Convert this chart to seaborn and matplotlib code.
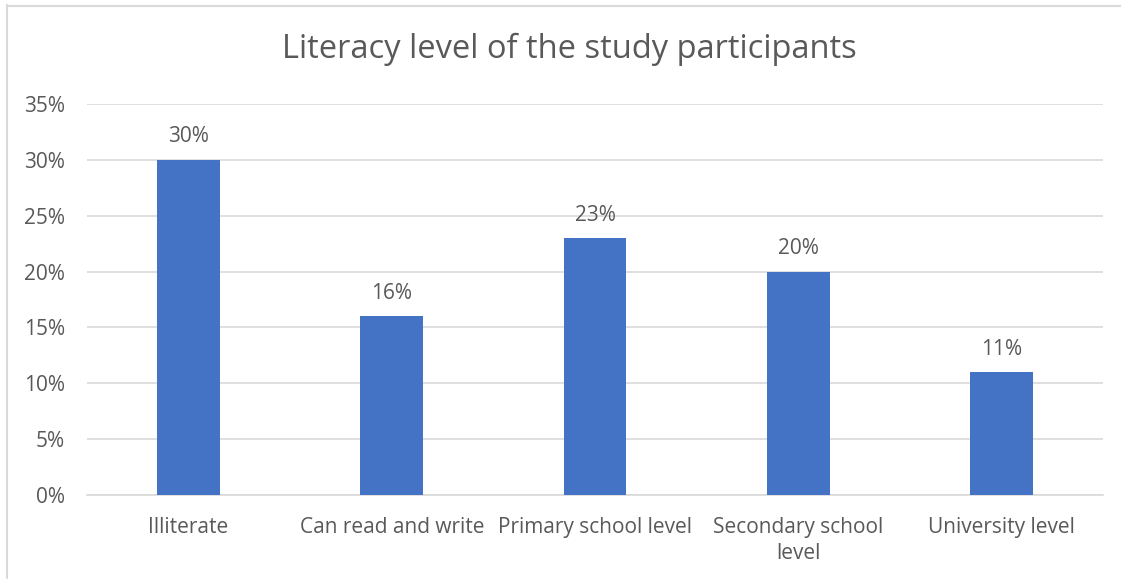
import matplotlib
matplotlib.use("Agg")
import matplotlib.pyplot as plt
from matplotlib.lines import Line2D
import seaborn as sns
import pandas as pd

categories = ["Illiterate", "Can read and write", "Primary school level",
              "Secondary school\nlevel", "University level"]
values = [30, 16, 23, 20, 11]
y_ticks = [0, 5, 10, 15, 20, 25, 30, 35]
tick_labels = [f"{t}%" for t in y_ticks]

df = pd.DataFrame({"level": categories, "pct": values})

sns.set_theme(style="white")
plt.rcParams["font.family"] = ["Open Sans", "DejaVu Sans"]

W, H = 1121, 584
fig = plt.figure(figsize=(W / 100, H / 100), dpi=100)
ax = fig.add_axes([87 / W, 1 - 495 / H, (1103 - 87) / W, (495 - 104) / H])

text_col = "#595959"
grid_col = "#d9d9d9"

sns.barplot(data=df, x="level", y="pct", color="#4472C4", width=0.31,
            saturation=1, linewidth=0, ax=ax, zorder=3)

ax.set_ylim(0, 35)
ax.set_yticks(y_ticks)
ax.set_yticklabels(tick_labels)
ax.yaxis.grid(True, color=grid_col, linewidth=1.2, zorder=0)
ax.set_axisbelow(True)
for s in ["top", "right", "left"]:
    ax.spines[s].set_visible(False)
ax.spines["bottom"].set_color(grid_col)
ax.spines["bottom"].set_linewidth(1.2)
ax.set_xlabel("")
ax.set_ylabel("")
ax.tick_params(axis="both", length=0, colors=text_col, labelsize=15)
ax.tick_params(axis="y", pad=16)
ax.tick_params(axis="x", pad=16)
for lbl in ax.get_xticklabels():
    lbl.set_verticalalignment("top")
    lbl.set_linespacing(1.3)

for container in ax.containers:
    ax.bar_label(container, labels=[f"{v}%" for v in values], padding=9,
                 color=text_col, fontsize=15)

fig.text(569 / W, 1 - 49 / H, "Literacy level of the study participants",
         ha="center", va="center", fontsize=23.5, color=text_col)

# chart frame
fig.add_artist(Line2D([6.5 / W, 6.5 / W], [1 - 578 / H, 1 - 5 / H],
                      transform=fig.transFigure, color=grid_col, linewidth=1.5))
fig.add_artist(Line2D([6.5 / W, 1.0], [1 - 5.5 / H, 1 - 5.5 / H],
                      transform=fig.transFigure, color=grid_col, linewidth=1.5))

fig.savefig("out.png", dpi=100, facecolor="white")
